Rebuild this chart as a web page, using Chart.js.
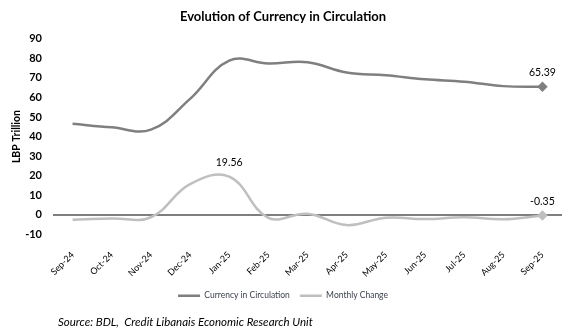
<!DOCTYPE html>
<html>
<head>
<meta charset="utf-8">
<script src="https://cdn.jsdelivr.net/npm/chart.js@4.4.1/dist/chart.umd.min.js"></script>
<style>
  body { margin: 0; background: #fff; }
  #wrap { position: relative; width: 574px; height: 334px; }
  #source {
    position: absolute; left: 58px; top: 315px;
    font: italic 11.5px "Lato", sans-serif; color: #000;
  }
</style>
</head>
<body>
<div id="wrap">
  <canvas id="chart" width="574" height="334"></canvas>
  <div id="source">Source: BDL,&nbsp; Credit Libanais Economic Research Unit</div>
</div>
<script>
// Months on the x axis
const months = ["Sep-24", "Oct-24", "Nov-24", "Dec-24", "Jan-25", "Feb-25", "Mar-25",
                "Apr-25", "May-25", "Jun-25", "Jul-25", "Aug-25", "Sep-25"];

// LBP trillion
const currencyInCirculation = [46.5, 44.7, 43.5, 59.2, 78.76, 77.3, 77.9, 72.7, 71.3, 69.2, 68.0, 65.74, 65.39];
const monthlyChange = [-2.5, -1.8, -1.2, 15.7, 19.56, -1.46, 0.6, -5.2, -1.4, -2.1, -1.2, -2.26, -0.35];

// y axis range
const yMin = -10;
const yMax = 90;
const yStep = 10;

// which points get a value label
const currencyLabelIdx = [12];
const changeLabelIdx = [4, 12];

const darkGray = "#7f7f7f";
const lightGray = "#bfbfbf";

function lastPointOnly(arr, r) {
  return arr.map((v, i) => (i === arr.length - 1 ? r : 0));
}

// draws the value labels above chosen points
const valueLabels = {
  id: "valueLabels",
  afterDatasetsDraw(chart) {
    const ctx = chart.ctx;
    const picks = [currencyLabelIdx, changeLabelIdx];
    ctx.save();
    ctx.font = "10.5px Lato, sans-serif";
    ctx.fillStyle = "#000";
    ctx.textAlign = "center";
    ctx.textBaseline = "bottom";
    picks.forEach((idxs, d) => {
      const meta = chart.getDatasetMeta(d);
      const data = chart.data.datasets[d].data;
      idxs.forEach((i) => {
        const pt = meta.data[i];
        ctx.fillText(data[i].toFixed(2), pt.x, pt.y - 9);
      });
    });
    ctx.restore();
  }
};

const ctx = document.getElementById("chart").getContext("2d");

new Chart(ctx, {
  type: "line",
  data: {
    labels: months,
    datasets: [
      {
        label: "Currency in Circulation",
        data: currencyInCirculation,
        borderColor: darkGray,
        backgroundColor: darkGray,
        borderWidth: 2.5,
        tension: 0.4,
        pointStyle: "rectRot",
        pointRadius: lastPointOnly(currencyInCirculation, 3.5),
        pointHoverRadius: 0
      },
      {
        label: "Monthly Change",
        data: monthlyChange,
        borderColor: lightGray,
        backgroundColor: lightGray,
        borderWidth: 2.5,
        tension: 0.4,
        pointStyle: "rectRot",
        pointRadius: lastPointOnly(monthlyChange, 3.5),
        pointHoverRadius: 0
      }
    ]
  },
  options: {
    responsive: false,
    animation: false,
    layout: { padding: { left: 4, right: 12, top: 0, bottom: 24 } },
    plugins: {
      title: {
        display: true,
        text: "Evolution of Currency in Circulation",
        color: "#000",
        font: { family: "Lato", size: 13, weight: "bold" },
        padding: { top: 9, bottom: 14 }
      },
      legend: {
        position: "bottom",
        labels: {
          color: "#3a3f4a",
          font: { family: "Lato", size: 8.5 },
          usePointStyle: true,
          pointStyleWidth: 22,
          pointStyle: "line",
          boxHeight: 8,
          padding: 10
        }
      },
      tooltip: { enabled: false }
    },
    scales: {
      x: {
        offset: true,
        grid: { display: false, drawTicks: false },
        border: { display: false },
        afterFit: (s) => { s.height = 47; },
        ticks: {
          color: "#000",
          font: { family: "Lato", size: 9 },
          maxRotation: 45,
          minRotation: 45,
          padding: 15
        }
      },
      y: {
        min: yMin,
        max: yMax,
        border: { display: false },
        afterFit: (s) => { s.width = 49; },
        grid: {
          drawTicks: false,
          lineWidth: 2,
          color: (c) => (c.tick && c.tick.value === 0 ? darkGray : "transparent")
        },
        ticks: {
          stepSize: yStep,
          color: "#000",
          font: { family: "Lato", size: 11, weight: "bold" },
          padding: 11
        },
        title: {
          display: true,
          text: "LBP Trillion",
          color: "#000",
          font: { family: "Lato", size: 10.5, weight: "bold" },
          padding: 6
        }
      }
    }
  },
  plugins: [valueLabels]
});
</script>
</body>
</html>
